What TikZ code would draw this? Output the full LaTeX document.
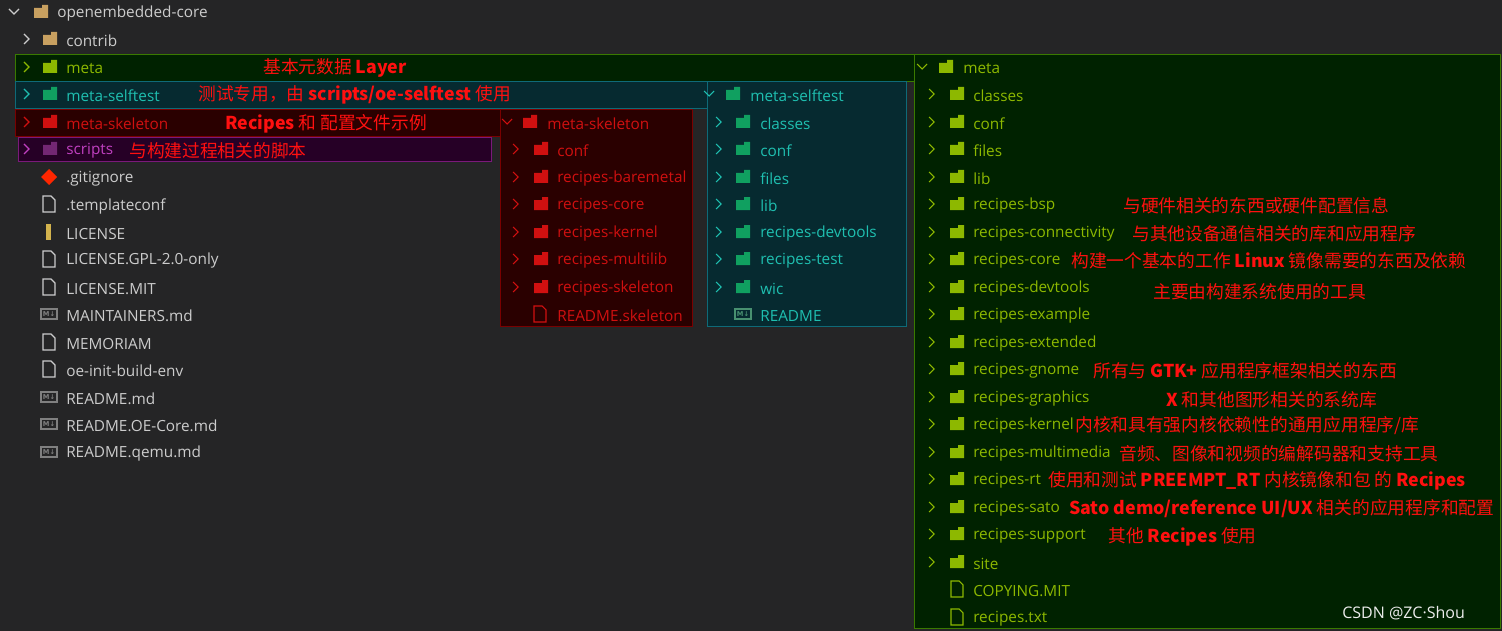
\documentclass[tikz,border=0pt]{standalone}
\usepackage{fontspec}
\setmainfont{Open Sans}
\newfontfamily\cjk{Noto Sans CJK SC}
\newfontfamily\dvs{DejaVu Sans}
\definecolor{bg}{HTML}{252526}
\definecolor{txt}{HTML}{CCCCCC}
\definecolor{mgreen}{HTML}{8DB800}
\definecolor{mgreenbg}{HTML}{002200}
\definecolor{mgreenbd}{HTML}{3A7A00}
\definecolor{steal}{HTML}{1FBFB0}
\definecolor{stealbg}{HTML}{062A30}
\definecolor{stealbd}{HTML}{0E6A78}
\definecolor{sred}{HTML}{D01010}
\definecolor{sredbg}{HTML}{2A0000}
\definecolor{sredbd}{HTML}{7A0000}
\definecolor{smag}{HTML}{C040C0}
\definecolor{smagbg}{HTML}{260026}
\definecolor{smagbd}{HTML}{7A1A7A}
\definecolor{ann}{HTML}{FF1010}
\definecolor{fold}{HTML}{C8A060}
\definecolor{fgreen}{HTML}{10A060}
\begin{document}
\begin{tikzpicture}[x=0.75pt,y=-0.75pt,
  lbl/.style={anchor=west,inner sep=0pt,yshift=-1.5pt,font=\fontsize{11.5}{12}\selectfont},
  annot/.style={anchor=west,inner sep=0pt,yshift=-1pt,text=ann,font=\cjk\fontsize{13.3}{14}\selectfont},
  chev/.style={line width=0.8pt}]
\newcommand{\chr}[3]{\draw[chev,#3] (#1-3,#2-5)--(#1+2,#2)--(#1-3,#2+5);}
\newcommand{\chd}[3]{\draw[chev,#3] (#1-5,#2-3)--(#1,#2+2)--(#1+5,#2-3);}
\newcommand{\fld}[3]{\fill[#3] (#1-7,#2-4)--(#1+7,#2-4)--(#1+7,#2+6)--(#1-7,#2+6)--cycle (#1+1,#2-4) rectangle (#1+7,#2-7);}
\newcommand{\fil}[3]{\draw[#3,line width=0.8pt] (#1-6,#2-8)--(#1+2,#2-8)--(#1+6,#2-4)--(#1+6,#2+8)--(#1-6,#2+8)--cycle;}
\newcommand{\md}[3]{\draw[#3,line width=0.8pt] (#1-8,#2-5) rectangle (#1+8,#2+5); \node[#3,font=\dvs\fontsize{5}{5}\selectfont\bfseries,inner sep=0pt] at (#1,#2) {M↓};}
\fill[bg] (0,0) rectangle (1502,631);
\useasboundingbox (0,0) rectangle (1502,631);
% bands and panels
\filldraw[fill=mgreenbg,draw=mgreenbd] (15,54) rectangle (1500,81);
\filldraw[fill=mgreenbg,draw=mgreenbd] (914,54) rectangle (1500,628);
\fill[mgreenbg] (915,55) rectangle (1499,81);
\filldraw[fill=stealbg,draw=stealbd] (15,81) rectangle (906,108);
\filldraw[fill=stealbg,draw=stealbd] (707,81) rectangle (906,326);
\fill[stealbg] (708,82) rectangle (905,108);
\filldraw[fill=sredbg,draw=sredbd] (15,109) rectangle (692,136);
\filldraw[fill=sredbg,draw=sredbd] (500,109) rectangle (692,326);
\fill[sredbg] (501,110) rectangle (691,136);
\filldraw[fill=smagbg,draw=smagbd] (18,137) rectangle (491,161);
% left tree
\chd{14}{12}{txt}\fld{41}{12}{fold}\node[lbl,text=txt] (oe) at (57,12) {openembedded-core};
\chr{27}{39}{txt}\fld{50}{39}{fold}\node[lbl,text=txt] (contrib) at (66,39) {contrib};
\chr{27}{67}{mgreen}\fld{50}{67}{mgreen}\node[lbl,text=mgreen] (meta) at (66,67) {meta};
\chr{27}{94}{steal}\fld{50}{94}{fgreen}\node[lbl,text=steal] (selftest) at (66,94) {meta-selftest};
\chr{27}{122}{sred}\fld{50}{122}{sred}\node[lbl,text=sred] (skel) at (66,122) {meta-skeleton};
\chr{27}{149}{smag}\fld{50}{149}{smag!60!black}\node[lbl,text=smag] (scripts) at (66,149) {scripts};
\fill[red!70!orange] (49,169) -- (57,177) -- (49,185) -- (41,177) -- cycle;
\node[lbl,text=txt] (gi) at (66,177) {.gitignore};
\fil{49}{204}{txt}\node[lbl,text=txt] (tc) at (66,204) {.templateconf};
\fill[fold!80!yellow] (46,224) rectangle (51,240);
\node[lbl,text=txt] (lic) at (66,232) {LICENSE};
\fil{49}{259}{txt}\node[lbl,text=txt] (gpl) at (66,259) {LICENSE.GPL-2.0-only};
\fil{49}{287}{txt}\node[lbl,text=txt] (mit) at (66,287) {LICENSE.MIT};
\md{49}{314}{gray}\node[lbl,text=txt] (maint) at (66,314) {MAINTAINERS.md};
\fil{49}{342}{txt}\node[lbl,text=txt] (mem) at (66,342) {MEMORIAM};
\fil{49}{369}{txt}\node[lbl,text=txt] (oeinit) at (66,369) {oe-init-build-env};
\md{49}{397}{gray}\node[lbl,text=txt] (rmd) at (66,397) {README.md};
\md{49}{424}{gray}\node[lbl,text=txt] (roe) at (66,424) {README.OE-Core.md};
\md{49}{452}{gray}\node[lbl,text=txt] (rq) at (66,452) {README.qemu.md};
% left annotations
\node[annot] (a1) at (263,67) {基本元数据 \textbf{Layer}};
\node[annot] (a2) at (198,94) {测试专用，由 \textbf{scripts/oe-selftest} 使用};
\node[annot] (a3) at (225,122) {\textbf{Recipes} 和 配置文件示例};
\node[annot] (a4) at (129,149) {与构建过程相关的脚本};
% skeleton panel
\chd{507}{122}{sred}\fld{530}{122}{sred}\node[lbl,text=sred] (sk0) at (547,122) {meta-skeleton};
\foreach \y/\t in {149/conf,177/recipes-baremetal,204/recipes-core,232/recipes-kernel,259/recipes-multilib,287/recipes-skeleton}{
  \chr{516}{\y}{sred}\fld{541}{\y}{sred}\node[lbl,text=sred] (sk\y) at (557,\y) {\t};}
\fil{540}{314}{sred}\node[lbl,text=sred] (skr) at (557,314) {README.skeleton};
% selftest panel
\chd{709}{94}{steal}\fld{733}{94}{fgreen}\node[lbl,text=steal] (st0) at (750,94) {meta-selftest};
\foreach \y/\t in {122/classes,149/conf,177/files,204/lib,232/recipes-devtools,259/recipes-test,287/wic}{
  \chr{719}{\y}{steal}\fld{743}{\y}{fgreen}\node[lbl,text=steal] (st\y) at (760,\y) {\t};}
\md{743}{314}{fgreen!50!gray}\node[lbl,text=steal] (str) at (760,314) {README};
% meta panel
\chd{922}{67}{mgreen}\fld{946}{67}{mgreen}\node[lbl,text=mgreen] (m0) at (963,67) {meta};
\foreach \y/\t in {94/classes,122/conf,149/files,177/lib,204/recipes-bsp,232/recipes-connectivity,259/recipes-core,287/recipes-devtools,314/recipes-example,342/recipes-extended,369/recipes-gnome,397/recipes-graphics,424/recipes-kernel,452/recipes-multimedia,479/recipes-rt,507/recipes-sato,534/recipes-support,562/site}{
  \chr{932}{\y}{mgreen}\fld{957}{\y}{mgreen}\node[lbl,text=mgreen] (m\y) at (973,\y) {\t};}
\fil{957}{589}{mgreen}\node[lbl,text=mgreen] (mcop) at (973,589) {COPYING.MIT};
\fil{957}{617}{mgreen}\node[lbl,text=mgreen] (mtxt) at (973,617) {recipes.txt};
% meta annotations
\node[annot] at (1123,204) {与硬件相关的东西或硬件配置信息};
\node[annot] at (1132,232) {与其他设备通信相关的库和应用程序};
\node[annot] at (1071,259) {构建一个基本的工作 \textbf{Linux} 镜像需要的东西及依赖};
\node[annot] at (1153,290) {主要由构建系统使用的工具};
\node[annot] at (1093,369) {所有与 \textbf{GTK+} 应用程序框架相关的东西};
\node[annot] at (1166,398) {\textbf{X} 和其他图形相关的系统库};
\node[annot] at (1075,424) {内核和具有强内核依赖性的通用应用程序/库};
\node[annot] at (1119,452) {音频、图像和视频的编解码器和支持工具};
\node[annot] at (1048,479) {使用和测试 \textbf{PREEMPT\_RT} 内核镜像和包 的 \textbf{Recipes}};
\node[annot] at (1069,507) {\textbf{Sato demo/reference UI/UX} 相关的应用程序和配置};
\node[annot] at (1108,536) {其他 \textbf{Recipes} 使用};
\node[anchor=west,inner sep=0pt,text=white!85!gray,font=\fontsize{12}{13}\selectfont] (wm) at (1342,613) {CSDN @ZC·Shou};
\end{tikzpicture}
\end{document}
